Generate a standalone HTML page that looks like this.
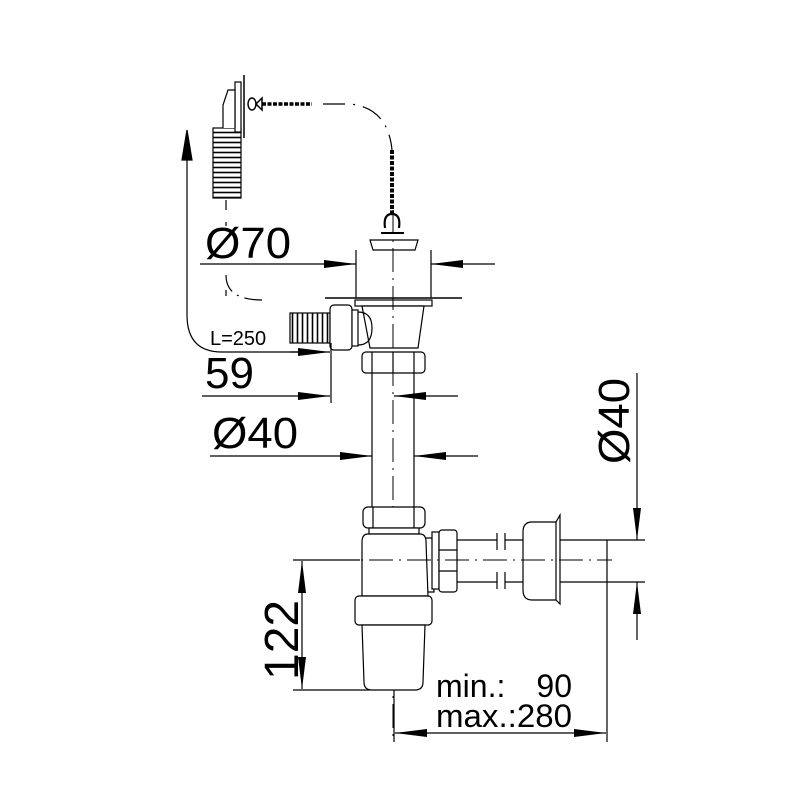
<!DOCTYPE html>
<html><head><style>html,body{margin:0;padding:0;background:#fff}svg{display:block}</style></head>
<body>
<svg width="800" height="800" viewBox="0 0 800 800" xmlns="http://www.w3.org/2000/svg" font-family="Liberation Sans, sans-serif">
<defs>
<marker id="a" markerWidth="32" markerHeight="10" refX="32" refY="5" orient="auto" markerUnits="userSpaceOnUse"><path d="M0,1 L32,5 L0,9 Z" fill="#000"/></marker>
<pattern id="rib" width="6" height="5" patternUnits="userSpaceOnUse"><rect width="6" height="5" fill="#fff"/><line x1="0" y1="2.5" x2="6" y2="2.5" stroke="#000" stroke-width="1.6"/></pattern>
<pattern id="ribv" width="5" height="6" patternUnits="userSpaceOnUse"><rect width="5" height="6" fill="#fff"/><line x1="2.5" y1="0" x2="2.5" y2="6" stroke="#000" stroke-width="1.6"/></pattern>
</defs>
<g stroke="#000" fill="none" stroke-width="1.2">
<rect x="213" y="128" width="28" height="70" fill="url(#rib)"/>
<line x1="244" y1="75" x2="244" y2="138" stroke-width="1.5"/>
<rect x="235" y="82" width="6" height="50" fill="#fff"/>
<path d="M223,128 L223,105 L228,90 L235,90 L235,128" fill="#fff"/>
<line x1="226" y1="200" x2="226" y2="210"/>
<line x1="226" y1="222" x2="226" y2="226"/>
<line x1="226" y1="290" x2="226" y2="296"/>
<ellipse cx="252" cy="104" rx="4" ry="6" stroke-width="1.5"/>
<path d="M256,104 L262,98 L262,110 Z" stroke-width="1.5"/>
<line x1="262" y1="104" x2="312" y2="104" stroke-width="3.5" stroke-dasharray="4 1.5"/>
<path d="M323,104 L350,104 Q388,108 392,150" stroke-dasharray="22 8 2 8"/>
<line x1="392" y1="150" x2="392" y2="215" stroke-width="4" stroke-dasharray="4 1.5"/>
<path d="M385,228 Q383,214 392,214 Q401,214 399,228" stroke-width="2.2"/>
<line x1="381" y1="233" x2="404" y2="233" stroke-width="2"/>
<path d="M370,240 L418,240 L415,250 L373,250 Z" fill="#fff"/>
<path d="M187,160 L187,315 Q187,352 222,352 L300,352"/>
<path d="M182,160 L187,130 L192,160 Z" fill="#000"/>
<line x1="290" y1="352" x2="330" y2="352" marker-end="url(#a)"/>
<path d="M226,275 Q226,300 262,300" stroke-dasharray="18 6 2 6"/>
<line x1="200" y1="264" x2="356" y2="264" marker-end="url(#a)"/>
<line x1="495" y1="264" x2="431" y2="264" marker-end="url(#a)"/>
<line x1="356" y1="250" x2="356" y2="298"/>
<line x1="431" y1="250" x2="431" y2="298"/>
<line x1="325" y1="298" x2="462" y2="298" stroke-width="1.5"/>
<rect x="355" y="300" width="77" height="6" fill="#fff"/>
<path d="M362,306 L424,306 L418,348 L370,348 Z" fill="#fff"/>
<path d="M358,312 Q372,312 372,328 Q372,345 358,345"/>
<rect x="290" y="313" width="40" height="30" fill="url(#ribv)"/>
<rect x="330" y="305" width="22" height="45" rx="4" fill="#fff"/>
<rect x="352" y="310" width="6" height="36" fill="#fff"/>
<rect x="362" y="352" width="63" height="21" rx="4" fill="#fff"/>
<line x1="372" y1="352" x2="372" y2="373"/><line x1="393" y1="352" x2="393" y2="373"/><line x1="414" y1="352" x2="414" y2="373"/>
<line x1="372" y1="373" x2="372" y2="507"/>
<line x1="414" y1="373" x2="414" y2="507"/>
<line x1="393" y1="210" x2="393" y2="740" stroke-width="1" stroke-dasharray="24 6 2 6"/>
<line x1="202" y1="396" x2="330" y2="396" marker-end="url(#a)"/>
<line x1="458" y1="396" x2="394" y2="396" marker-end="url(#a)"/>
<line x1="331" y1="343" x2="331" y2="403"/>
<line x1="210" y1="456" x2="372" y2="456" marker-end="url(#a)"/>
<line x1="478" y1="456" x2="414" y2="456" marker-end="url(#a)"/>
<rect x="363" y="507" width="62" height="21" rx="5" fill="#fff"/>
<line x1="373" y1="507" x2="373" y2="528"/><line x1="414" y1="507" x2="414" y2="528"/>
<rect x="369" y="528" width="50" height="6" fill="#fff"/>
<path d="M368,534 L420,534 Q426,534 426,542 L428,596 L362,596 L362,542 Q362,534 368,534 Z" fill="#fff"/>
<rect x="355" y="596" width="77" height="29" rx="4" fill="#fff"/>
<path d="M362,625 L425,625 L423,682 Q423,690 415,690 L372,690 Q364,690 364,682 Z" fill="#fff"/>
<path d="M426,538 L432,538 L434,592 L428,592"/>
<rect x="432" y="532" width="7" height="57" fill="#fff"/>
<rect x="439" y="530" width="18" height="62" rx="3" fill="#fff"/>
<line x1="439" y1="550" x2="457" y2="550"/><line x1="439" y1="571" x2="457" y2="571"/>
<line x1="457" y1="540" x2="497" y2="540"/><line x1="457" y1="582" x2="497" y2="582"/>
<line x1="497" y1="533" x2="497" y2="550"/><line x1="505" y1="533" x2="505" y2="550"/>
<line x1="497" y1="572" x2="497" y2="589"/><line x1="505" y1="572" x2="505" y2="589"/>
<line x1="505" y1="540" x2="523" y2="540"/><line x1="505" y1="582" x2="523" y2="582"/>
<path d="M532,522 L556,522 L556,600 L532,600 Q523,600 523,590 L523,532 Q523,522 532,522 Z" fill="#fff"/>
<path d="M556,522 L560,515 L560,604 L556,600"/>
<line x1="560" y1="540" x2="645" y2="540"/><line x1="560" y1="582" x2="645" y2="582"/>
<line x1="293" y1="560" x2="612" y2="560" stroke-width="1" stroke-dasharray="24 6 2 6"/>
<line x1="293" y1="560" x2="360" y2="560"/>
<line x1="293" y1="690" x2="370" y2="690"/>
<line x1="302" y1="625" x2="302" y2="561" marker-end="url(#a)"/>
<line x1="302" y1="625" x2="302" y2="689" marker-end="url(#a)"/>
<line x1="637" y1="373" x2="637" y2="540" marker-end="url(#a)"/>
<line x1="637" y1="640" x2="637" y2="582" marker-end="url(#a)"/>
<line x1="607" y1="540" x2="607" y2="742"/>
<line x1="394" y1="690" x2="394" y2="742"/>
<line x1="500" y1="733" x2="395" y2="733" marker-end="url(#a)"/>
<line x1="500" y1="733" x2="606" y2="733" marker-end="url(#a)"/>
</g>
<g fill="#000">
<text x="205" y="258" font-size="44" textLength="86" lengthAdjust="spacingAndGlyphs">Ø70</text>
<text x="210" y="345" font-size="20">L=250</text>
<text x="205" y="388" font-size="44">59</text>
<text x="212" y="448" font-size="44" textLength="86" lengthAdjust="spacingAndGlyphs">Ø40</text>
<text transform="translate(298,680) rotate(-90)" font-size="48">122</text>
<text transform="translate(629,464) rotate(-90)" font-size="44" textLength="86" lengthAdjust="spacingAndGlyphs">Ø40</text>
<text x="436" y="697" font-size="32">min.:</text>
<text x="572" y="697" font-size="32" text-anchor="end">90</text>
<text x="436" y="727" font-size="32" textLength="136" lengthAdjust="spacingAndGlyphs">max.:280</text>
</g>
</svg>
</body></html>
